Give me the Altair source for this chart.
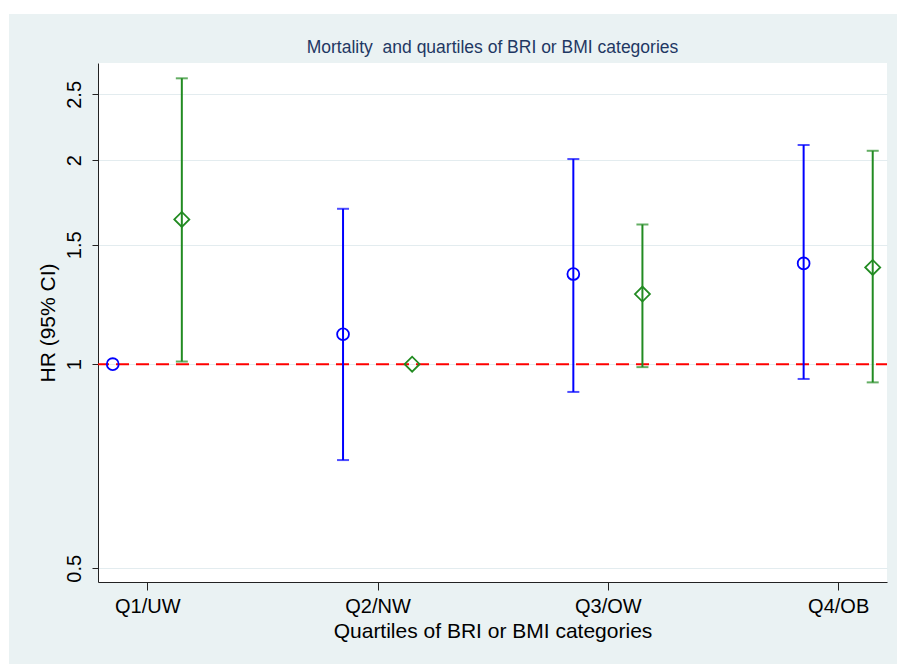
import json
import altair as alt
import pandas as pd

# ---- data ----
categories = ["Q1/UW", "Q2/NW", "Q3/OW", "Q4/OB"]
series_names = ["BRI", "BMI"]
bri_hr = [1.0, 1.107, 1.358, 1.408]
bri_lo = [None, 0.722, 0.910, 0.951]
bri_hi = [None, 1.695, 2.007, 2.105]
bmi_hr = [1.635, 1.0, 1.269, 1.389]
bmi_lo = [1.009, None, 0.990, 0.940]
bmi_hi = [2.640, None, 1.607, 2.064]
y_ticks = [0.5, 1, 1.5, 2, 2.5]
ref_value = [1.0]

rows = []
for i, c in enumerate(categories):
    for s, hr, lo, hi in (("BRI", bri_hr, bri_lo, bri_hi), ("BMI", bmi_hr, bmi_lo, bmi_hi)):
        rows.append({"cat": c, "idx": i + 1, "series": s, "hr": hr[i], "lo": lo[i], "hi": hi[i]})
df = pd.DataFrame(rows)

FONT = "Liberation Sans"
AXIS_COL = "#222222"

x_scale = alt.Scale(domain=[0.786, 4.212], nice=False, zero=False)
y_scale = alt.Scale(type="log", domain=[0.4772, 2.781], nice=False)

x_axis = alt.Axis(
    values=[1, 2, 3, 4],
    labelExpr=f"{json.dumps(categories)}[datum.value - 1]",
    title="Quartiles of BRI or BMI categories",
    grid=False, domainColor=AXIS_COL, domainWidth=1, tickColor=AXIS_COL, tickSize=8,
    labelFont=FONT, labelFontSize=20, labelColor="black", labelBaseline="alphabetic",
    labelPadding=22.7, labelFlush=False, labelOverlap=False,
    titleFont=FONT, titleFontSize=21, titleFontWeight="normal", titleColor="black",
    titleX=394.5, titleY=55, titleAlign="center", titleBaseline="alphabetic",
)
y_axis = alt.Axis(
    values=y_ticks, format="~g", title="HR (95% CI)",
    grid=True, gridColor="#E3ECEF", gridWidth=1,
    domainColor=AXIS_COL, domainWidth=1, tickColor=AXIS_COL, tickSize=6,
    labelFont=FONT, labelFontSize=20, labelColor="black", labelAngle=270,
    labelAlign="center", labelBaseline="alphabetic", labelPadding=12,
    titleFont=FONT, titleFontSize=21, titleFontWeight="normal", titleColor="black",
    titleAngle=270, titleX=-43.5, titleY=259.5, titleAlign="center", titleBaseline="alphabetic",
)

color = alt.Color("series:N", scale=alt.Scale(domain=series_names, range=["#0000FF", "#228B22"]), legend=None)

base = alt.Chart(df).transform_calculate(
    xpos="datum.idx + (datum.series === 'BRI' ? -0.15 : 0.15)"
)
X = alt.X("xpos:Q", scale=x_scale, axis=x_axis)

ref = alt.Chart(pd.DataFrame({"ref": ref_value})).mark_rule(
    color="#FF0000", strokeDash=[13, 7], strokeWidth=2, strokeDashOffset=2
).encode(y=alt.Y("ref:Q", scale=y_scale, axis=y_axis))

ci = base.transform_filter("isValid(datum.lo)")
bars = ci.mark_rule(strokeWidth=2).encode(
    x=X, y=alt.Y("lo:Q", scale=y_scale, axis=y_axis), y2="hi:Q", color=color
)
cap_lo = ci.mark_tick(orient="horizontal", size=12, thickness=2).encode(
    x=X, y=alt.Y("lo:Q", scale=y_scale, axis=y_axis), color=color
)
cap_hi = ci.mark_tick(orient="horizontal", size=12, thickness=2).encode(
    x=X, y=alt.Y("hi:Q", scale=y_scale, axis=y_axis), color=color
)
points = base.mark_point(filled=False, strokeWidth=1.8, opacity=1).encode(
    x=X,
    y=alt.Y("hr:Q", scale=y_scale, axis=y_axis),
    color=color,
    shape=alt.Shape("series:N", scale=alt.Scale(domain=series_names, range=["circle", "diamond"]), legend=None),
    size=alt.Size("series:N", scale=alt.Scale(domain=series_names, range=[140, 225]), legend=None),
)

blank = alt.Data(values=[{}])
strip_left = alt.Chart(blank).mark_rect(color="white").encode(
    x=alt.value(-98), x2=alt.value(-89), y=alt.value(-63), y2=alt.value(601)
)
strip_top = alt.Chart(blank).mark_rect(color="white").encode(
    x=alt.value(-98), x2=alt.value(799), y=alt.value(-63), y2=alt.value(-49)
)

chart = alt.layer(ref, bars, cap_lo, cap_hi, points, strip_left, strip_top).properties(
    width=789, height=519,
    title="Mortality\u00a0 and quartiles of BRI or BMI categories",
    autosize=alt.AutoSizeParams(type="none"),
    padding={"left": 98, "top": 63, "right": 10, "bottom": 82},
).configure(background="#EAF2F3").configure_view(
    fill="white", stroke=None
).configure_title(
    font=FONT, fontSize=17.5, fontWeight="normal", color="#1F3863",
    anchor="middle", baseline="alphabetic", offset=6.5, dy=63,
)

chart.save("out.html", embed_options={"renderer": "svg", "actions": False})
